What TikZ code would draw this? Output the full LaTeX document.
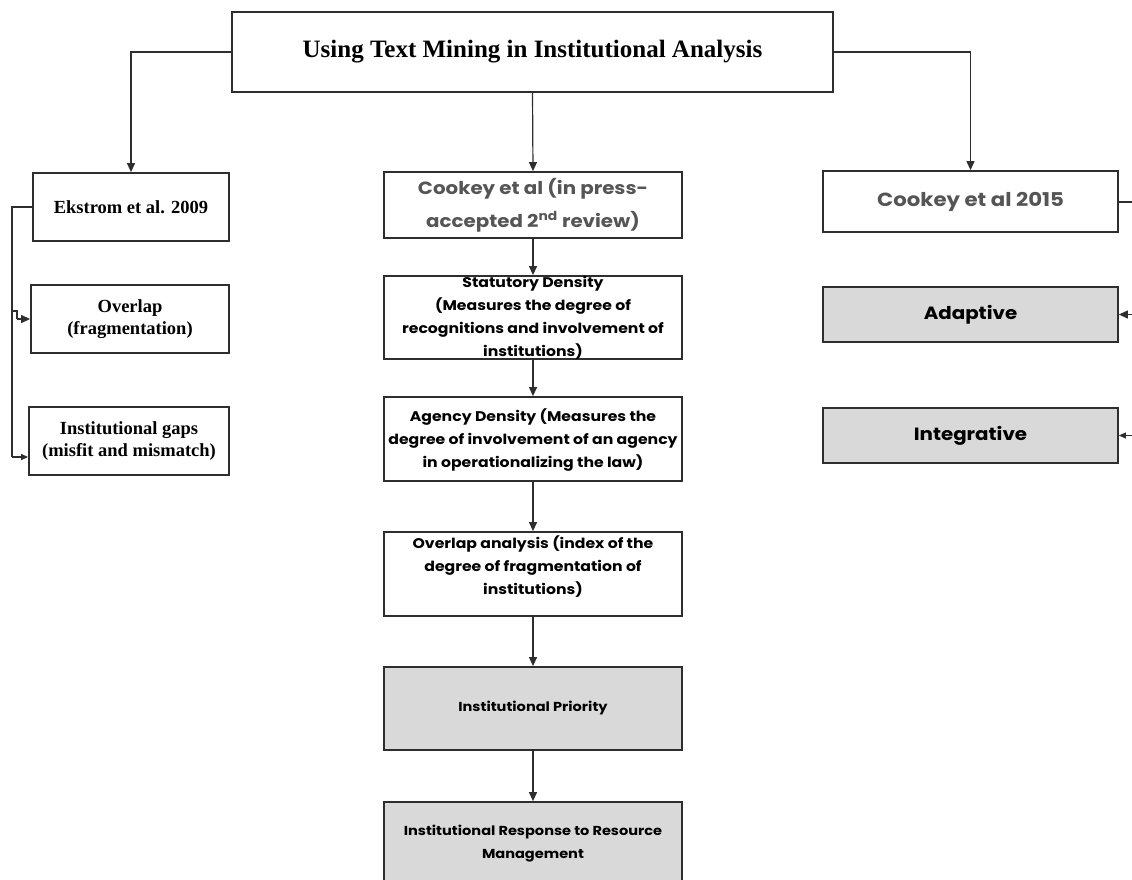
\documentclass[tikz,border=0pt]{standalone}
\usepackage{fontspec}
\setmainfont{Liberation Serif}
\newfontfamily\geo[FakeStretch=1.12]{Poppins}
\usetikzlibrary{arrows.meta}
\definecolor{edge}{HTML}{2E2E2E}
\definecolor{boxgray}{HTML}{D9D9D9}
\definecolor{headgray}{HTML}{555555}
\tikzset{
  box/.style={draw=edge, line width=1.8pt, inner sep=0pt, rectangle},
  graybox/.style={box, fill=boxgray},
  conn/.style={draw=edge, line width=1.2pt, -{Triangle[length=9pt,width=8pt]}},
  smallconn/.style={draw=edge, line width=1.2pt, -{Triangle[length=7pt,width=6pt]}},
  plain/.style={draw=edge, line width=1.2pt},
  serifbold/.style={font=\bfseries\fontsize{18.5}{22}\selectfont, align=center, inner sep=0pt},
  titlefont/.style={font=\bfseries\fontsize{25}{29}\selectfont, inner sep=0pt},
  geobody/.style={font=\geo\bfseries\fontsize{14}{23}\selectfont, align=center, inner sep=0pt},
  geosmall/.style={font=\geo\bfseries\fontsize{13}{23}\selectfont, align=center, inner sep=0pt},
  geobig/.style={font=\geo\bfseries\fontsize{17.7}{33}\selectfont, align=center, inner sep=0pt},
  geohead/.style={geobig, text=headgray},
}
\begin{document}
\begin{tikzpicture}[x=1pt, y=-1pt]
  \path[use as bounding box] (0,0) rectangle (1132,879);
  \clip (0,0) rectangle (1132,879);

  % title box
  \node[box, minimum width=601pt, minimum height=80pt] (top) at (532.5,52) {};
  \node[titlefont] (topL) at (top.center) {Using Text Mining in Institutional Analysis};

  % left column
  \node[box, minimum width=196pt, minimum height=68pt] (ek) at (131,207) {};
  \node[serifbold] (ekL) at (ek.center) {Ekstrom et al. 2009};
  \node[box, minimum width=198pt, minimum height=68pt] (ovl) at (130,319) {};
  \node[serifbold] (ovlL) at (ovl.center) {Overlap\\(fragmentation)};
  \node[box, minimum width=200pt, minimum height=68pt] (gap) at (129,441) {};
  \node[serifbold] (gapL) at (gap.center) {Institutional gaps\\(misfit and mismatch)};

  % centre column
  \node[box, minimum width=298pt, minimum height=66pt] (ck) at (533,205) {};
  \node[geohead] (ckL) at (ck.center) {Cookey et al (in press-\\accepted 2\textsuperscript{nd} review)};
  \node[box, minimum width=298pt, minimum height=83pt] (sd) at (533,317.5) {};
  \node[geobody] (sdL) at (sd.center) {Statutory Density\\(Measures the degree of\\recognitions and involvement of\\institutions)};
  \node[box, minimum width=298pt, minimum height=84pt] (ad) at (533,439) {};
  \node[geobody] (adL) at (533,440) {Agency Density (Measures the\\degree of involvement of an agency\\in operationalizing the law)};
  \node[box, minimum width=298pt, minimum height=84pt] (oa) at (533,574) {};
  \node[geobody] (oaL) at (533,567) {Overlap analysis (index of the\\degree of fragmentation of\\institutions)};
  \node[graybox, minimum width=298pt, minimum height=83pt] (ip) at (533,708.5) {};
  \node[geosmall] (ipL) at (ip.center) {Institutional Priority};
  \node[graybox, minimum width=298pt, minimum height=83pt] (ir) at (533,843.5) {};
  \node[geosmall] (irL) at (533,844) {Institutional Response to Resource\\Management};

  % right column
  \node[box, minimum width=295pt, minimum height=61pt] (c15) at (970.5,201.5) {};
  \node[geohead, font=\geo\bfseries\fontsize{19}{33}\selectfont] (c15L) at (c15.center) {Cookey et al 2015};
  \node[graybox, minimum width=295pt, minimum height=55pt] (adp) at (970.5,314.5) {};
  \node[geobig] (adpL) at (adp.center) {Adaptive};
  \node[graybox, minimum width=295pt, minimum height=55pt] (itg) at (970.5,435.5) {};
  \node[geobig] (itgL) at (itg.center) {Integrative};

  % connectors from the title
  \draw[conn] (top.west) -| (ek.north);
  \draw[conn] (top.south) -- (ck.north);
  \draw[conn] (top.east) -| (c15.north);

  % centre chain
  \draw[conn] (ck.south) -- (sd.north);
  \draw[conn] (sd.south) -- (ad.north);
  \draw[conn] (ad.south) -- (oa.north);
  \draw[conn] (oa.south) -- (ip.north);
  \draw[conn] (ip.south) -- (ir.north);

  % left bracket
  \coordinate (lb) at (12,207);
  \draw[plain] (ek.west) -- (lb) -- (12,457);
  \draw[smallconn] (12,457) -- (gap.west |- 0,457);
  \draw[plain] (12,311) -- (17,311) -- (17,319);
  \draw[conn] (17,319) -- (ovl.west);

  % right bracket (runs past the right edge)
  \coordinate (rb) at (1145,202);
  \draw[plain] (c15.east |- rb) -- (rb) -- (1145,436);
  \draw[conn] (1145,314.5) -- (adp.east);
  \draw[smallconn] (1145,435.5) -- (itg.east);
\end{tikzpicture}
\end{document}
